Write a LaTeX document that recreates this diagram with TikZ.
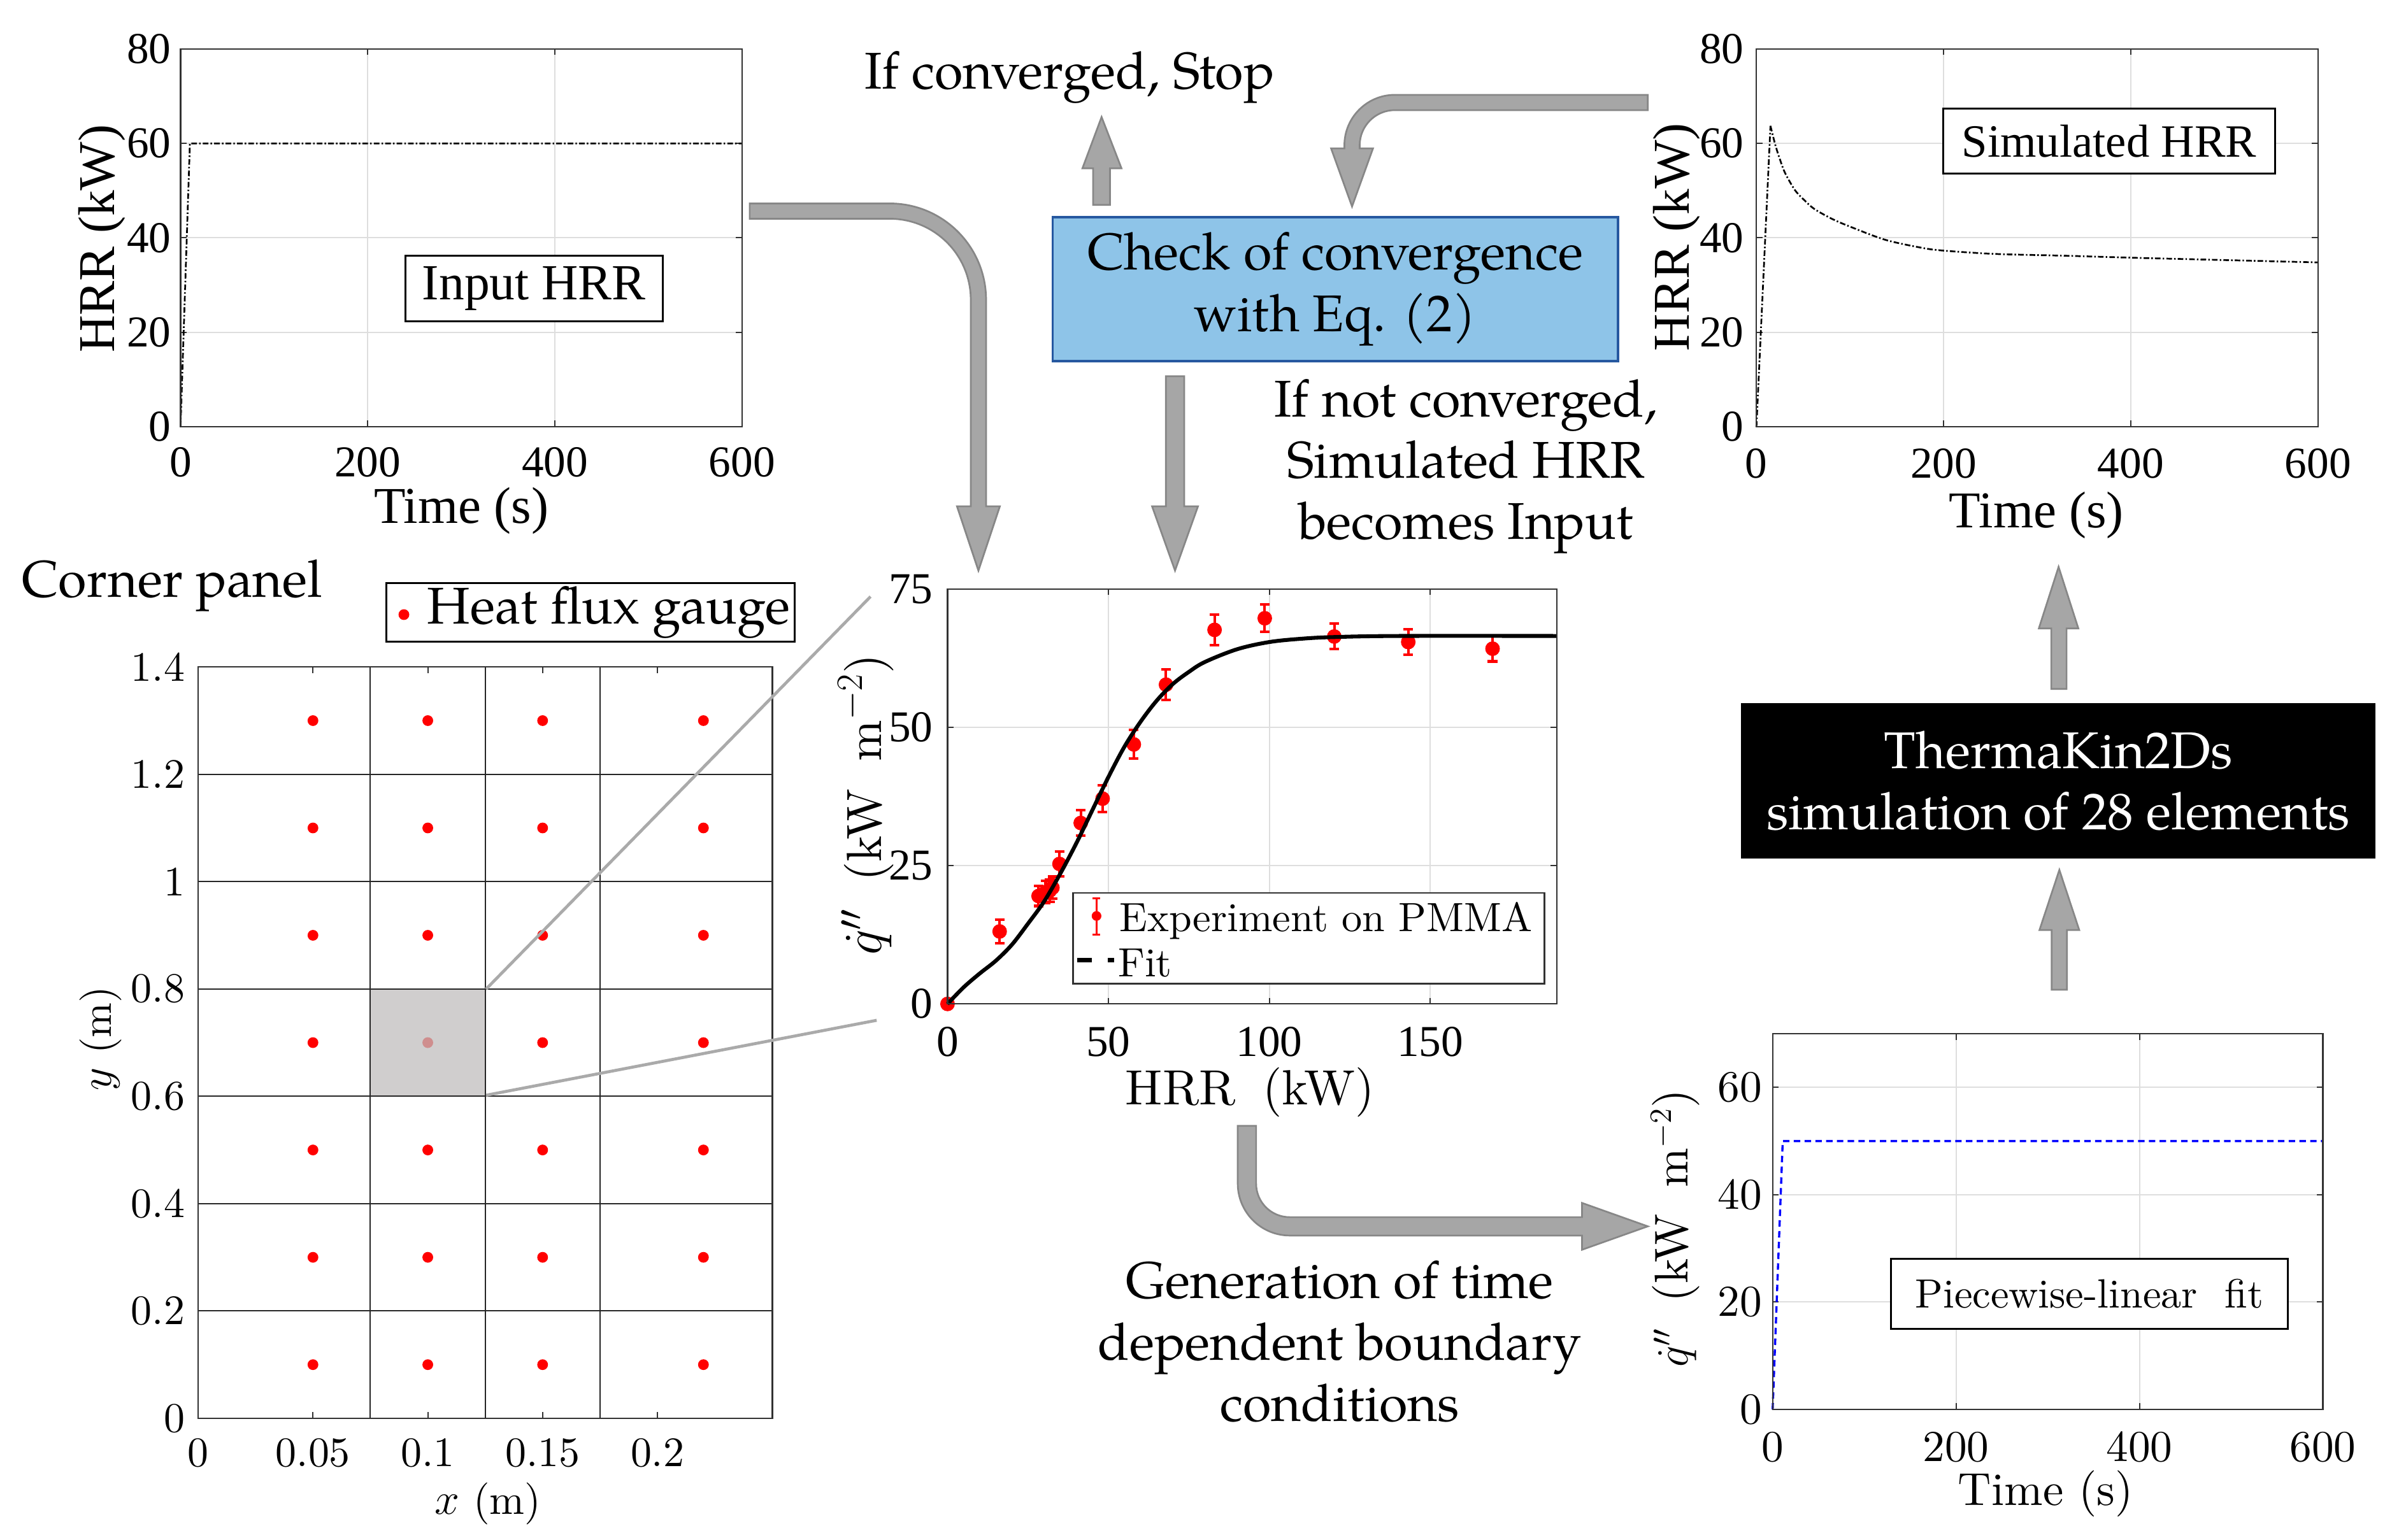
\documentclass[tikz,border=0pt]{standalone}
\usepackage{fontspec}
\newfontfamily\palfont{TeX Gyre Pagella}
\newfontfamily\tmsfont{Liberation Serif}
\newfontfamily\lmten{lmroman10-regular.otf}
\definecolor{arrfill}{RGB}{166,166,166}
\definecolor{arrline}{RGB}{135,135,135}
\definecolor{boxfill}{RGB}{142,196,232}
\definecolor{boxline}{RGB}{38,88,160}
\definecolor{gridc}{RGB}{222,222,222}
\definecolor{axc}{RGB}{50,50,50}
\definecolor{hlc}{RGB}{192,190,190}
\definecolor{zoomc}{RGB}{170,170,170}
\begin{document}
\begin{tikzpicture}[x=0.025cm,y=-0.025cm,
  pal/.style={font=\palfont\fontsize{24}{28.5}\selectfont, align=center, inner sep=0pt},
  tmstick/.style={font=\tmsfont\fontsize{20.5}{24}\selectfont, inner sep=0pt},
  tmslab/.style={font=\tmsfont\fontsize{24}{28}\selectfont, inner sep=0pt},
  cmtick/.style={font=\lmten\fontsize{19.5}{23}\selectfont, inner sep=0pt},
  bigarrow/.style={fill=arrfill, draw=arrline, line width=0.8pt, line join=miter},
  axbox/.style={draw=axc, line width=0.7pt},
  gridl/.style={draw=gridc, line width=0.6pt},
  tickl/.style={draw=axc, line width=0.6pt},
  dashdotl/.style={line width=0.8pt, dash pattern=on 2.6pt off 1pt on 0.7pt off 1pt},
  errdot/.style={circle, fill=red, inner sep=0pt, minimum size=6.8pt},
  gaugedot/.style={circle, fill=red, inner sep=0pt, minimum size=5pt},
  labelbox/.style={draw=black, line width=0.9pt, fill=white, inner sep=0pt},
]
\path[use as bounding box] (0,0) rectangle (1568,1006.75);

% ================= Input HRR plot =================
\begin{scope}[shift={(118,279)}, xscale=0.611667, yscale=-3.0875]
  \foreach \v in {200,400} \draw[gridl] (\v,0) -- (\v,80);
  \foreach \v in {20,40,60} \draw[gridl] (0,\v) -- (600,\v);
  \foreach \v in {200,400} {\draw[tickl] (\v,0) -- (\v,1.3); \draw[tickl] (\v,80) -- (\v,78.7);}
  \foreach \v in {20,40,60} {\draw[tickl] (0,\v) -- (6.5,\v); \draw[tickl] (600,\v) -- (593.5,\v);}
  \draw[dashdotl] (0,0) -- (10,60) -- (600,60);
  \draw[axbox] (0,0) rectangle (600,80);
\end{scope}
\foreach \v in {0,200,400,600} \node[tmstick] at ({118+\v*0.611667},302) {\v};
\foreach \v in {0,20,40,60,80} \node[tmstick, anchor=east] at (112,{279-\v*3.0875}) {\v};
\node[tmslab] (p1xl) at (301.5,334) {Time (s)};
\node[tmslab, rotate=90] (p1yl) at (66.5,156) {HRR (kW)};
\node[labelbox, minimum width=4.2cm, minimum height=1.075cm, font=\tmsfont\fontsize{23.5}{28}\selectfont] (inhrr) at (349,188.5) {Input HRR};

% ================= Simulated HRR plot =================
\begin{scope}[shift={(1148,279)}, xscale=0.611667, yscale=-3.0875]
  \foreach \v in {200,400} \draw[gridl] (\v,0) -- (\v,80);
  \foreach \v in {20,40,60} \draw[gridl] (0,\v) -- (600,\v);
  \foreach \v in {200,400} {\draw[tickl] (\v,0) -- (\v,1.3); \draw[tickl] (\v,80) -- (\v,78.7);}
  \foreach \v in {20,40,60} {\draw[tickl] (0,\v) -- (6.5,\v); \draw[tickl] (600,\v) -- (593.5,\v);}
  \draw[dashdotl] (0,0) -- (15,63.7);
  \draw[dashdotl] plot[smooth, tension=0.5] coordinates {(15,63.7) (20.3,59.6) (25.5,56.4) (30.7,53.7) (41.2,50.1) (51.6,47.9) (62,46.1) (80,44.1) (98.5,42.5) (137.5,39.6) (176.6,37.9) (200,37.3) (254.7,36.6) (332.8,36.2) (400.5,35.8) (500,35.3) (600,34.8)};
  \draw[axbox] (0,0) rectangle (600,80);
\end{scope}
\foreach \v in {0,200,400,600} \node[tmstick] at ({1148+\v*0.611667},303) {\v};
\foreach \v in {0,20,40,60,80} \node[tmstick, anchor=east] at (1140,{279-\v*3.0875}) {\v};
\node[tmslab] (p3xl) at (1331,337) {Time (s)};
\node[tmslab, rotate=90] (p3yl) at (1096,155) {HRR (kW)};
\node[labelbox, minimum width=5.425cm, minimum height=1.065cm, font=\tmsfont\fontsize{21.5}{26}\selectfont] (simhrr) at (1378.5,92.3) {Simulated HRR};

% ================= q'' vs HRR plot =================
\begin{scope}[shift={(619.3,656.3)}, xscale=2.1029, yscale=-3.6173]
  \foreach \v in {50,100,150} \draw[gridl] (\v,0) -- (\v,75);
  \foreach \v in {25,50} \draw[gridl] (0,\v) -- (189.4,\v);
  \foreach \v in {50,100,150} {\draw[tickl] (\v,0) -- (\v,1.1); \draw[tickl] (\v,75) -- (\v,73.9);}
  \foreach \v in {25,50} {\draw[tickl] (0,\v) -- (1.9,\v); \draw[tickl] (189.4,\v) -- (187.5,\v);}
  \foreach \px/\py/\pe in {16.2/13.1/2.1, 28.3/19.5/1.8, 30.5/20.2/2.0, 31.8/20.5/2.0, 32.6/21.0/2.0, 34.8/25.3/2.2, 41.4/32.7/2.3, 48.2/37.1/2.4, 57.9/46.9/2.6, 67.9/57.7/2.8, 83.0/67.6/2.8, 98.6/69.7/2.5, 120.2/66.4/2.3, 143.2/65.4/2.3, 169.4/64.2/2.3} {
    \draw[red, line width=1.2pt] (\px,\py-\pe) -- (\px,\py+\pe);
    \draw[red, line width=1.2pt] (\px-1.5,\py-\pe) -- (\px+1.5,\py-\pe);
    \draw[red, line width=1.2pt] (\px-1.5,\py+\pe) -- (\px+1.5,\py+\pe);
    \node[errdot] at (\px,\py) {};
  }
  \node[errdot] at (0,0) {};
  \draw[line width=1.8pt] plot[smooth, tension=0.55] coordinates {(0,0) (5,3) (10,5.5) (15,7.8) (20,10.7) (25,14.5) (30,18.5) (35,23.5) (40,29) (45,35) (50,41) (55,46.5) (60,51) (65,54.8) (70,57.8) (75,60) (80,61.8) (90,64.1) (100,65.4) (110,66) (120,66.3) (140,66.5) (189.4,66.5)};
  \draw[axbox] (0,0) rectangle (189.4,75);
\end{scope}
\foreach \v in {0,50,100,150} \node[tmstick] at ({619.3+\v*2.1029},681) {\v};
\foreach \v in {0,25,50,75} \node[tmstick, anchor=east] at (610,{656.3-\v*3.6173}) {\v};
\node[font=\lmten\fontsize{23}{27}\selectfont, inner sep=0pt] (p2xl) at (817,714) {HRR\;\;(kW)};
\node[font=\lmten\fontsize{23}{27}\selectfont, inner sep=0pt, rotate=90] (p2yl) at (566,526) {$\dot{q}''$\;\;(kW\;\;m$^{-2}$)};
% legend
\draw[draw=axc, line width=0.7pt, fill=white] (701.4,583.6) rectangle (1009.4,643);
\draw[red, line width=1.1pt] (716.7,587.3) -- (716.7,611);
\draw[red, line width=1.1pt] (714.2,587.3) -- (719.2,587.3);
\draw[red, line width=1.1pt] (714.2,611) -- (719.2,611);
\node[circle, fill=red, inner sep=0pt, minimum size=4.5pt] (legdot) at (716.7,598.8) {};
\node[font=\lmten\fontsize{19}{23}\selectfont, inner sep=0pt, anchor=base west] (legexp) at (731.6,609) {Experiment on PMMA};
\draw[line width=1.9pt] (704,627.6) -- (713.5,627.6);
\draw[line width=1.9pt] (724.2,627.6) -- (728.4,627.6);
\node[font=\lmten\fontsize{19}{23}\selectfont, inner sep=0pt, anchor=base west] (legfit) at (730.5,638.3) {Fit};

% ================= Piecewise plot =================
\begin{scope}[shift={(1158.6,921.4)}, xscale=0.59933, yscale=-3.50857]
  \foreach \v in {200,400} \draw[gridl] (\v,0) -- (\v,70);
  \foreach \v in {20,40,60} \draw[gridl] (0,\v) -- (600,\v);
  \foreach \v in {200,400} {\draw[tickl] (\v,0) -- (\v,1.14); \draw[tickl] (\v,70) -- (\v,68.86);}
  \foreach \v in {20,40,60} {\draw[tickl] (0,\v) -- (6.7,\v); \draw[tickl] (600,\v) -- (593.3,\v);}
  \draw[blue, line width=1pt, dash pattern=on 3pt off 2pt] (0,0) -- (11,50) -- (600,50);
  \draw[axbox] (0,0) rectangle (600,70);
\end{scope}
\foreach \v in {0,200,400,600} \node[cmtick, font=\lmten\fontsize{20.5}{24}\selectfont] at ({1158.6+\v*0.59933},946) {\v};
\foreach \v in {0,20,40,60} \node[cmtick, font=\lmten\fontsize{20.5}{24}\selectfont, anchor=east] at (1152,{921.4-\v*3.50857}) {\v};
\node[font=\lmten\fontsize{21.5}{25}\selectfont, inner sep=0pt] (p4xl) at (1337,976.5) {Time (s)};
\node[font=\lmten\fontsize{22}{26}\selectfont, inner sep=0pt, rotate=90] (p4yl) at (1095,803) {$\dot{q}''$\;\;(kW\;\;m$^{-2}$)};
\node[labelbox, minimum width=6.49cm, minimum height=1.145cm, font=\lmten\fontsize{19}{23}\selectfont] (pwfit) at (1365.6,845.9) {Piecewise-linear\ \ fit};

% ================= Corner panel plot =================
\begin{scope}[shift={(129.5,927.2)}, xscale=1501.2, yscale=-350.86]
  \foreach \xx in {0.05,0.1,0.15,0.22} \foreach \yy in {0.1,0.3,0.5,0.7,0.9,1.1,1.3} \node[gaugedot] at (\xx,\yy) {};
  \fill[hlc, fill opacity=0.75] (0.075,0.6) rectangle (0.125,0.8);
  \foreach \v in {0.2,0.4,0.6,0.8,1.0,1.2} \draw[black!85, line width=0.6pt] (0,\v) -- (0.25,\v);
  \foreach \v in {0.075,0.125,0.175} \draw[black!85, line width=0.6pt] (\v,0) -- (\v,1.4);
  \foreach \v in {0.05,0.1,0.15,0.2} {\draw[tickl] (\v,0) -- (\v,0.0114); \draw[tickl] (\v,1.4) -- (\v,1.3886);}
  \draw[axbox] (0,0) rectangle (0.25,1.4);
\end{scope}
\foreach \v/\t in {0/0,0.2/0.2,0.4/0.4,0.6/0.6,0.8/0.8,1/1,1.2/1.2,1.4/1.4} \node[cmtick, anchor=east] at (121,{927.2-\v*350.86}) {\t};
\foreach \v/\t in {0/0,0.05/0.05,0.1/0.1,0.15/0.15,0.2/0.2} \node[cmtick] at ({129.5+\v*1501.2},950) {\t};
\node[font=\lmten\fontsize{19.5}{23}\selectfont, inner sep=0pt] (p5xl) at (318.8,983) {$x$ (m)};
\node[font=\lmten\fontsize{19.5}{23}\selectfont, inner sep=0pt, rotate=90] (p5yl) at (65.6,679) {$y$ (m)};
\node[pal, anchor=base west] (corner) at (14,390.5) {Corner panel};
\draw[black, line width=0.9pt, fill=white] (252.7,381) rectangle (519.6,419.3);
\node[circle, fill=red, inner sep=0pt, minimum size=5pt] (gdot) at (264,401.8) {};
\node[pal, anchor=base west] (gauge) at (279,408) {Heat flux gauge};

% zoom lines
\coordinate (hlNE) at (317.7,646.6);
\coordinate (hlSE) at (317.7,716);
\coordinate (zA) at (569,390);
\coordinate (zB) at (573,667);
\draw[zoomc, line width=1.4pt] (hlNE) -- (zA);
\draw[zoomc, line width=1.4pt] (hlSE) -- (zB);

% ================= Boxes and texts =================
\node[pal, draw=boxline, fill=boxfill, line width=1pt, minimum width=9.2375cm, minimum height=2.35cm] (check) at (872.75,189) {Check of convergence\\with Eq. (2)};
\node[pal, fill=black, text=white, minimum width=10.365cm, minimum height=2.5425cm] (tk) at (1345.3,510.55) {ThermaKin2Ds\\simulation of 28 elements};
\node[pal, anchor=base] (stop) at (699,58) {If converged, Stop};
\node[pal] (notconv) at (958,305) {If not converged,\\Simulated HRR\\becomes Input};
\node[pal] (gen) at (875.7,877) {Generation of time\\dependent boundary\\conditions};

% ================= Block arrows =================
% Input HRR -> q'' plot
\draw[bigarrow] (490,133) -- (581.5,133) .. controls (616.3,133) and (644.5,161.2) .. (644.5,196) -- (644.5,331) -- (653.5,331) -- (639.5,373) -- (625.5,331) -- (634.5,331) -- (634.5,196) .. controls (634.5,166.7) and (610.8,143) .. (581.5,143) -- (490,143) -- cycle;
% Check -> q'' plot
\draw[bigarrow] (762,246) -- (774,246) -- (774,331) -- (783,331) -- (768,373) -- (753,331) -- (762,331) -- cycle;
% Check -> Stop
\draw[bigarrow] (714.5,134) -- (714.5,110) -- (707.5,110) -- (720,76.5) -- (733,110) -- (725.5,110) -- (725.5,134) -- cycle;
% Simulated HRR -> Check
\draw[bigarrow] (1077,62) -- (911.7,62) .. controls (893.5,62) and (878.7,76.8) .. (878.7,95) -- (878.7,97) -- (870,97) -- (883.7,135) -- (897.4,97) -- (888.7,97) -- (888.7,95) .. controls (888.7,82.3) and (899,72) .. (911.7,72) -- (1077,72) -- cycle;
% HRR -> piecewise plot
\draw[bigarrow] (809,736) -- (809,773.7) .. controls (809,792.5) and (824.2,807.7) .. (843,807.7) -- (1034,807.7) -- (1034,817) -- (1077,801.7) -- (1034,786.4) -- (1034,795.7) -- (843,795.7) .. controls (830.8,795.7) and (821,785.9) .. (821,773.7) -- (821,736) -- cycle;
% piecewise -> ThermaKin
\draw[bigarrow] (1341,647) -- (1341,608) -- (1333,608) -- (1346,568.7) -- (1359,608) -- (1351,608) -- (1351,647) -- cycle;
% ThermaKin -> Simulated HRR
\draw[bigarrow] (1340.7,450.4) -- (1340.7,410.8) -- (1332.6,410.8) -- (1345.5,370.6) -- (1358.4,410.8) -- (1350.7,410.8) -- (1350.7,450.4) -- cycle;
\end{tikzpicture}
\end{document}
